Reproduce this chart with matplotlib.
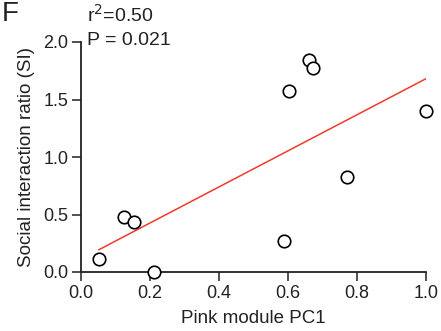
import numpy as np
import matplotlib
matplotlib.use("Agg")
import matplotlib.pyplot as plt

plt.rcParams['font.family'] = ['Liberation Sans', 'DejaVu Sans']

pc1 = [0.052, 0.125, 0.154, 0.212, 0.588, 0.603, 0.661, 0.672, 0.771, 1.0]
si = [0.113, 0.478, 0.435, 0.0, 0.27, 1.574, 1.843, 1.774, 0.826, 1.40]
xticks = [0.0, 0.2, 0.4, 0.6, 0.8, 1.0]
yticks = [0.0, 0.5, 1.0, 1.5, 2.0]
xtick_labels = ["0.0", "0.2", "0.4", "0.6", "0.8", "1.0"]
ytick_labels = ["0.0", "0.5", "1.0", "1.5", "2.0"]
stats_r2 = "r$^2$=0.50"
stats_p = "P = 0.021"

fig = plt.figure(figsize=(4.41, 3.31), dpi=100)
ax = fig.add_axes([81/441, 1-272/331, (426-81)/441, (272-42)/331])

x = np.array(pc1)
y = np.array(si)
slope, intercept = np.polyfit(x, y, 1)
xl = np.array([x.min(), x.max()])
ax.plot(xl, slope*xl + intercept, color='#f03a2a', lw=1.1, zorder=2)
ax.plot(x, y, 'o', mfc='white', mec='black', ms=9, mew=1.2, clip_on=False, zorder=3)

ax.set_xlim(0, 1.0)
ax.set_ylim(0, 2.0)
ax.set_xticks(xticks)
ax.set_xticklabels(xtick_labels)
ax.set_yticks(yticks)
ax.set_yticklabels(ytick_labels)
for s in ['top', 'right']:
    ax.spines[s].set_visible(False)
for s in ['left', 'bottom']:
    ax.spines[s].set_linewidth(1.3)
    ax.spines[s].set_color('#222222')
ax.tick_params(direction='out', length=6.5, width=1.1, labelsize=13, colors='#222222', pad=2.5)
ax.set_xlabel("Pink module PC1", fontsize=13.5, color='#222222', labelpad=6)
ax.set_ylabel("Social interaction ratio (SI)", fontsize=13.5, color='#222222', labelpad=6)

fig.text(2/441, 1-1/331, "F", fontsize=20, va='top', ha='left', color='#222222')
fig.text(87/441, 1-4/331, stats_r2, fontsize=14, va='top', ha='left', color='#222222')
fig.text(87/441, 1-32/331, stats_p, fontsize=14, va='top', ha='left', color='#222222')

fig.savefig("out.png", dpi=100)
